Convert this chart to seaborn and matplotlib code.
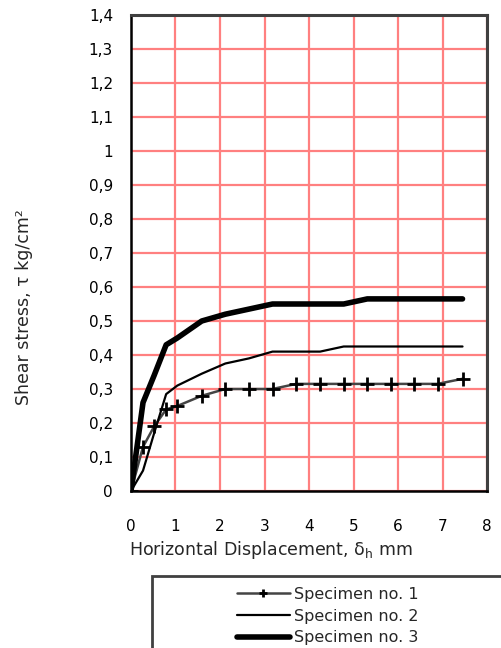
import matplotlib
matplotlib.use("Agg")
import matplotlib.pyplot as plt
from matplotlib.patches import Rectangle
from matplotlib.ticker import FixedLocator, FuncFormatter
import numpy as np
import pandas as pd
import seaborn as sns

# Horizontal displacement readings (mm)
displacement = [0, 0.27, 0.52, 0.79, 1.04, 1.59, 2.12, 2.65, 3.18, 3.71,
                4.25, 4.78, 5.31, 5.84, 6.37, 6.89, 7.45]

# Shear stress (kg/cm2) for each specimen
specimen_1 = [0, 0.13, 0.19, 0.24, 0.25, 0.28, 0.30, 0.30, 0.30, 0.315,
              0.315, 0.315, 0.315, 0.315, 0.315, 0.315, 0.33]
specimen_2 = [0, 0.06, 0.17, 0.285, 0.31, 0.345, 0.375, 0.39, 0.41, 0.41,
              0.41, 0.425, 0.425, 0.425, 0.425, 0.425, 0.425]
specimen_3 = [0, 0.26, 0.34, 0.43, 0.45, 0.50, 0.52, 0.535, 0.55, 0.55,
              0.55, 0.55, 0.565, 0.565, 0.565, 0.565, 0.565]

labels = ["Specimen no. 1", "Specimen no. 2", "Specimen no. 3"]

x_ticks = list(range(0, 9))
y_ticks = [round(0.1 * i, 1) for i in range(15)]

sns.set_style("white")
plt.rcParams["font.family"] = ["DejaVu Sans"]
plt.rcParams["mathtext.fontset"] = "dejavusans"

W, H = 502, 648
fig = plt.figure(figsize=(W / 100, H / 100), dpi=100)
ax = fig.add_axes([131 / W, 1 - 491 / H, (487 - 131) / W, (491 - 15) / H])

df = pd.DataFrame({
    "x": displacement * 3,
    "y": specimen_1 + specimen_2 + specimen_3,
    "series": np.repeat(labels, len(displacement)),
})

styles = {
    labels[0]: dict(color="#444444", linewidth=1.8, marker="+", markersize=10,
                    markeredgewidth=2.0, markeredgecolor="black"),
    labels[1]: dict(color="black", linewidth=1.6),
    labels[2]: dict(color="black", linewidth=4.0),
}

for name in labels:
    sub = df[df["series"] == name]
    sns.lineplot(data=sub, x="x", y="y", ax=ax, label=name, sort=False,
                 estimator=None, zorder=3, **styles[name])

ax.set_xlim(0, 8)
ax.set_ylim(0, 1.4)
ax.xaxis.set_major_locator(FixedLocator(x_ticks))
ax.yaxis.set_major_locator(FixedLocator(y_ticks))


def comma_fmt(v, pos):
    s = f"{v:.1f}"
    if s.endswith(".0"):
        s = s[:-2]
    return s.replace(".", ",")


ax.yaxis.set_major_formatter(FuncFormatter(comma_fmt))
ax.xaxis.set_major_formatter(FuncFormatter(lambda v, p: f"{int(v)}"))

ax.grid(True, color="#ff8080", linewidth=1.6)
ax.set_axisbelow(True)

for side in ("left", "bottom"):
    ax.spines[side].set_color("black")
    ax.spines[side].set_linewidth(1.8)
for side in ("top", "right"):
    ax.spines[side].set_visible(True)
    ax.spines[side].set_color("#404040")
    ax.spines[side].set_linewidth(2.2)

ax.tick_params(axis="both", direction="out", length=5, width=1.8,
               color="black", labelsize=11, labelcolor="black")
ax.tick_params(axis="y", pad=8)
ax.tick_params(axis="x", pad=15)

ax.set_xlabel("")
ax.set_ylabel("")
ax.legend_.remove()

fig.text(271 / W, 1 - 550 / H, r"Horizontal Displacement, δ$_\mathregular{h}$ mm",
         ha="center", va="center", fontsize=12.5)
fig.text(24 / W, 1 - 307 / H, "Shear stress, τ kg/cm²",
         ha="center", va="center", rotation=90, fontsize=12.5)

# Legend box
fig.patches.append(Rectangle((152 / W, -0.05), 1.0, (1 - 576 / H) + 0.05,
                             transform=fig.transFigure, fill=False,
                             edgecolor="#404040", linewidth=2.0))
handles, hl = ax.get_legend_handles_labels()
fig.legend(handles, labels, loc="upper left",
           bbox_to_anchor=(237 / W, 1 - 587 / H), frameon=False,
           fontsize=11.5, handlelength=3.3, handletextpad=0.3,
           labelspacing=0.42, borderpad=0, borderaxespad=0,
           markerscale=0.6)

fig.savefig("out.png", dpi=100)
